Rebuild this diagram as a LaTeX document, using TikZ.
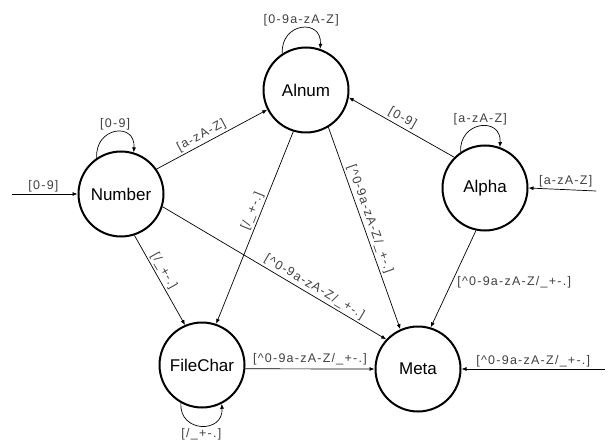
\documentclass[tikz,border=0pt]{standalone}
\usepackage{fontspec}
\setmainfont{Liberation Sans}
\newfontfamily\lblfont[LetterSpace=10]{Liberation Sans}
\usetikzlibrary{arrows.meta}
\tikzset{
  state/.style={circle, draw, line width=2pt, minimum size=85pt, inner sep=0pt,
    font=\fontsize{17}{20}\selectfont},
  edge/.style={line width=0.7pt, -{Latex[length=5pt,width=4pt]}},
  lbl/.style={font=\lblfont\fontsize{12.5}{14}\selectfont, text=black!75, inner sep=2pt},
}
\begin{document}
\begin{tikzpicture}[x=1pt,y=1pt]
\useasboundingbox (0,0) rectangle (612,-446);
\node[state] (Number) at (121,-194) {Number};
\node[state] (Alnum) at (306,-90) {Alnum};
\node[state] (Alpha) at (485,-188) {Alpha};
\node[state] (FileChar) at (202,-365) {FileChar};
\node[state] (Meta) at (418,-369) {Meta};
\coordinate (n0) at (12,-194);
\coordinate (a0) at (596,-191);
\coordinate (m0) at (605,-369);

% initial arrows
\draw[edge] (n0) -- node[lbl, above, pos=0.48] {[0-9]} (Number.west);
\draw[edge] (a0) -- node[lbl, above, pos=0.45] {[a-zA-Z]} (Alpha.east);
\draw[edge] (m0) -- node[lbl, above, pos=0.5] {[\textasciicircum0-9a-zA-Z/\_+-.]} (Meta.east);

% loops
\draw[edge] (Number.124) .. controls +(-2,31) and +(2,31) .. node[lbl, above, inner sep=1pt] {[0-9]} (Number.73);
\draw[edge] (Alnum.123) .. controls +(-2,31) and +(2,31) .. node[lbl, above, inner sep=1pt] {[0-9a-zA-Z]} (Alnum.71);
\draw[edge] (Alpha.124) .. controls +(-2,31) and +(2,31) .. node[lbl, above, inner sep=1pt] {[a-zA-Z]} (Alpha.70);
\draw[edge] (FileChar.241) .. controls +(-2,-30) and +(2,-30) .. node[lbl, below, inner sep=2pt] {[/\_+-.]} (FileChar.297);

% transitions
\draw[edge] (Number.35) -- node[lbl, above, sloped, pos=0.44] {[a-zA-Z]} (Alnum.207);
\draw[edge] (Number.288) -- node[lbl, above, sloped, pos=0.44] {[/\_+-.]} (FileChar.113);
\draw[edge] (Alnum.253) -- node[lbl, above, sloped, pos=0.43] {[/\_+-.]} (FileChar.71);
\draw[edge] (Alnum.301) -- node[lbl, above, sloped, pos=0.47] {[\textasciicircum0-9a-zA-Z/\_+-.]} (Meta.114);
\draw[edge] (Number.343) -- node[lbl, above, sloped, pos=0.66] {[\textasciicircum0-9a-zA-Z/\_+-.]} (Meta.137);
\draw[edge] (Alpha.135) -- node[lbl, above, sloped, pos=0.53] {[0-9]} (Alnum.350);
\draw[edge] (Alpha.258) -- node[lbl, right, pos=0.53, xshift=3pt] {[\textasciicircum0-9a-zA-Z/\_+-.]} (Meta.73);
\draw[edge] (FileChar.355) -- node[lbl, above, pos=0.5, yshift=1.5pt] {[\textasciicircum0-9a-zA-Z/\_+-.]} (Meta.180);
\end{tikzpicture}
\end{document}
